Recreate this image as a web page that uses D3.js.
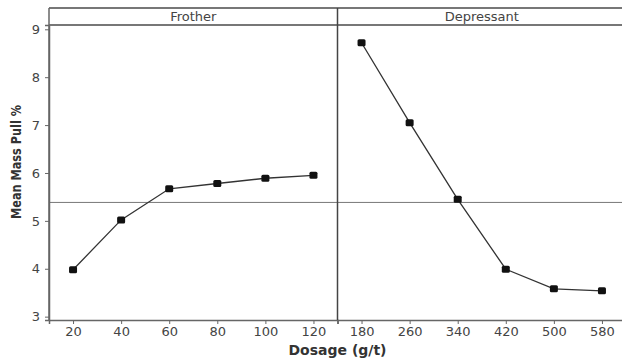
<!DOCTYPE html>
<html>
<head>
<meta charset="utf-8">
<script src="https://cdn.jsdelivr.net/npm/d3@7"></script>
<style>
  body { margin: 0; background: #fff; }
  svg { display: block; font-family: "DejaVu Sans", Verdana, sans-serif; }
</style>
</head>
<body>
<div id="chart"></div>
<script>
// data
const panels = ["Frother", "Depressant"];
const frotherDose = ["20", "40", "60", "80", "100", "120"];
const frotherPull = [3.98, 5.02, 5.67, 5.78, 5.89, 5.95];
const depressantDose = ["180", "260", "340", "420", "500", "580"];
const depressantPull = [8.72, 7.05, 5.45, 3.99, 3.58, 3.54];
const yTicks = [3, 4, 5, 6, 7, 8, 9];

const width = 622, height = 364;
const margin = {top: 8, right: -4, bottom: 44, left: 49};
const stripH = 17;
const plotTop = margin.top + stripH;
const plotBottom = height - margin.bottom;
const panelW = (width - margin.left - margin.right) / 2;

const svg = d3.select("#chart").append("svg")
    .attr("width", width)
    .attr("height", height);

const y = d3.scaleLinear()
    .domain([2.93, 9.09])
    .range([plotBottom, plotTop]);

const series = [
  {name: panels[0], dose: frotherDose, pull: frotherPull},
  {name: panels[1], dose: depressantDose, pull: depressantPull}
];

const grandMean = d3.mean(frotherPull.concat(depressantPull));

series.forEach((s, i) => {
  const x0 = margin.left + i * panelW;
  const x = d3.scalePoint()
      .domain(s.dose)
      .range([x0, x0 + panelW])
      .padding(0.5);

  // strip header
  svg.append("text")
      .attr("x", x0 + panelW / 2)
      .attr("y", margin.top + 12.5)
      .attr("text-anchor", "middle")
      .attr("font-size", 13)
      .attr("fill", "#444")
      .text(s.name);

  // x axis
  const gx = svg.append("g")
      .attr("transform", `translate(0,${plotBottom})`)
      .call(d3.axisBottom(x).tickSizeOuter(0).tickSize(4).tickPadding(3));
  gx.select(".domain").attr("stroke", "#666").attr("stroke-width", 1.5);
  gx.selectAll(".tick line").attr("stroke", "#666");
  gx.selectAll(".tick text")
      .attr("font-size", 13)
      .attr("fill", "#444")
      .attr("font-family", "DejaVu Sans, sans-serif");

  // mean reference line
  svg.append("line")
      .attr("x1", x0).attr("x2", x0 + panelW)
      .attr("y1", y(grandMean)).attr("y2", y(grandMean))
      .attr("stroke", "#777")
      .attr("stroke-width", 1);

  const pts = s.dose.map((d, j) => [x(d), y(s.pull[j])]);

  svg.append("path")
      .attr("d", d3.line()(pts))
      .attr("fill", "none")
      .attr("stroke", "#333")
      .attr("stroke-width", 1.3);

  svg.append("g")
    .selectAll("rect")
    .data(pts)
    .join("rect")
      .attr("x", d => d[0] - 4)
      .attr("y", d => d[1] - 3.5)
      .attr("width", 8)
      .attr("height", 7)
      .attr("rx", 1.5)
      .attr("fill", "#111");
});

// y axis
const gy = svg.append("g")
    .attr("transform", `translate(${margin.left},0)`)
    .call(d3.axisLeft(y).tickValues(yTicks).tickFormat(d3.format("d"))
      .tickSizeOuter(0).tickSize(4).tickPadding(5));
gy.select(".domain").attr("stroke", "#666").attr("stroke-width", 1.5);
gy.selectAll(".tick line").attr("stroke", "#666");
gy.selectAll(".tick text")
    .attr("font-size", 13)
    .attr("fill", "#444")
    .attr("font-family", "DejaVu Sans, sans-serif");

// frame: top border, strip separator, panel divider
const xRight = margin.left + 2 * panelW;
svg.append("line")
    .attr("x1", margin.left).attr("x2", xRight)
    .attr("y1", margin.top).attr("y2", margin.top)
    .attr("stroke", "#777").attr("stroke-width", 2);
svg.append("line")
    .attr("x1", margin.left).attr("x2", xRight)
    .attr("y1", plotTop).attr("y2", plotTop)
    .attr("stroke", "#777").attr("stroke-width", 2);
svg.append("line")
    .attr("x1", margin.left).attr("x2", margin.left)
    .attr("y1", margin.top).attr("y2", plotBottom)
    .attr("stroke", "#666").attr("stroke-width", 1.5);
svg.append("line")
    .attr("x1", margin.left + panelW).attr("x2", margin.left + panelW)
    .attr("y1", margin.top).attr("y2", plotBottom)
    .attr("stroke", "#444").attr("stroke-width", 1.5);

// axis titles
svg.append("text")
    .attr("x", margin.left + panelW)
    .attr("y", 355)
    .attr("text-anchor", "middle")
    .attr("font-size", 14)
    .attr("font-weight", "bold")
    .attr("fill", "#333")
    .text("Dosage (g/t)");

svg.append("text")
    .attr("transform", `translate(21,162) rotate(-90)`)
    .attr("text-anchor", "middle")
    .attr("font-size", 13.5)
    .attr("font-weight", "bold")
    .attr("fill", "#333")
    .attr("textLength", 114)
    .attr("lengthAdjust", "spacingAndGlyphs")
    .text("Mean Mass Pull %");
</script>
</body>
</html>
